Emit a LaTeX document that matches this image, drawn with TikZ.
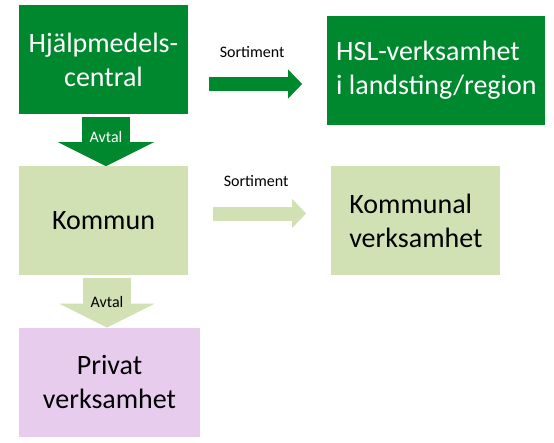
\documentclass[tikz,border=0pt]{standalone}
\usepackage{fontspec}
\setmainfont{Carlito}
\usepackage{tikz}
\usetikzlibrary{positioning, arrows.meta}
\definecolor{darkgreen}{RGB}{0,136,46}
\definecolor{lightgreen}{RGB}{210,225,180}
\definecolor{lilac}{RGB}{232,204,238}

\begin{document}
\begin{tikzpicture}[
    box/.style={minimum width=169pt, minimum height=109pt, inner sep=0pt, align=center, font=\fontsize{28}{34}\selectfont},
    small/.style={font=\fontsize{16}{19}\selectfont},
]
    \useasboundingbox (0,0) rectangle (554pt,-442pt);
    \node (HMC) [box, fill=darkgreen, text=white] at (103.5pt,-59.5pt) {Hjälpmedels-\\central};
    \node (HSL) [box, fill=darkgreen, text=white, minimum width=218pt, align=left, right=139pt of HMC, yshift=-11pt] {HSL-verksamhet\\i landsting/region};
    \node (Kommun) [box, fill=lightgreen, below=52pt of HMC] {Kommun};
    \node (KV) [box, fill=lightgreen, align=left, right=143pt of Kommun] {Kommunal\\verksamhet};
    \node (Privat) [box, fill=lilac, minimum width=181pt, below=52pt of Kommun.south west, anchor=north west] {Privat\\verksamhet};
    % Avtal arrows going down
    \draw [line width=48pt, darkgreen, -{Triangle[width=95pt, length=24pt]}, shorten <=3pt] ([xshift=2.5pt]HMC.south) -- ([xshift=2.5pt]Kommun.north) node [pos=0.44, small, text=white] {Avtal};
    \draw [line width=48pt, lightgreen, -{Triangle[width=95pt, length=24pt]}, shorten <=2pt] ([xshift=3.5pt]Kommun.south) -- ([xshift=3.5pt]Kommun.south |- Privat.north) node [pos=0.5, small, text=black] {Avtal};
    % Sortiment arrows going right
    \coordinate (S1) at (209pt,-84pt);
    \draw [line width=14pt, darkgreen, -{Triangle[width=28pt, length=14pt]}, shorten >=25pt] (S1) -- (S1 -| HSL.west) node [midway, small, text=black, xshift=-16pt, yshift=32pt] {Sortiment};
    \coordinate (S2) at (213pt,-213.5pt);
    \draw [line width=14pt, lightgreen, -{Triangle[width=28pt, length=14pt]}, shorten >=25pt] (S2) -- (S2 -| KV.west) node [midway, small, text=black, xshift=-16pt, yshift=32.5pt] {Sortiment};
\end{tikzpicture}
\end{document}
